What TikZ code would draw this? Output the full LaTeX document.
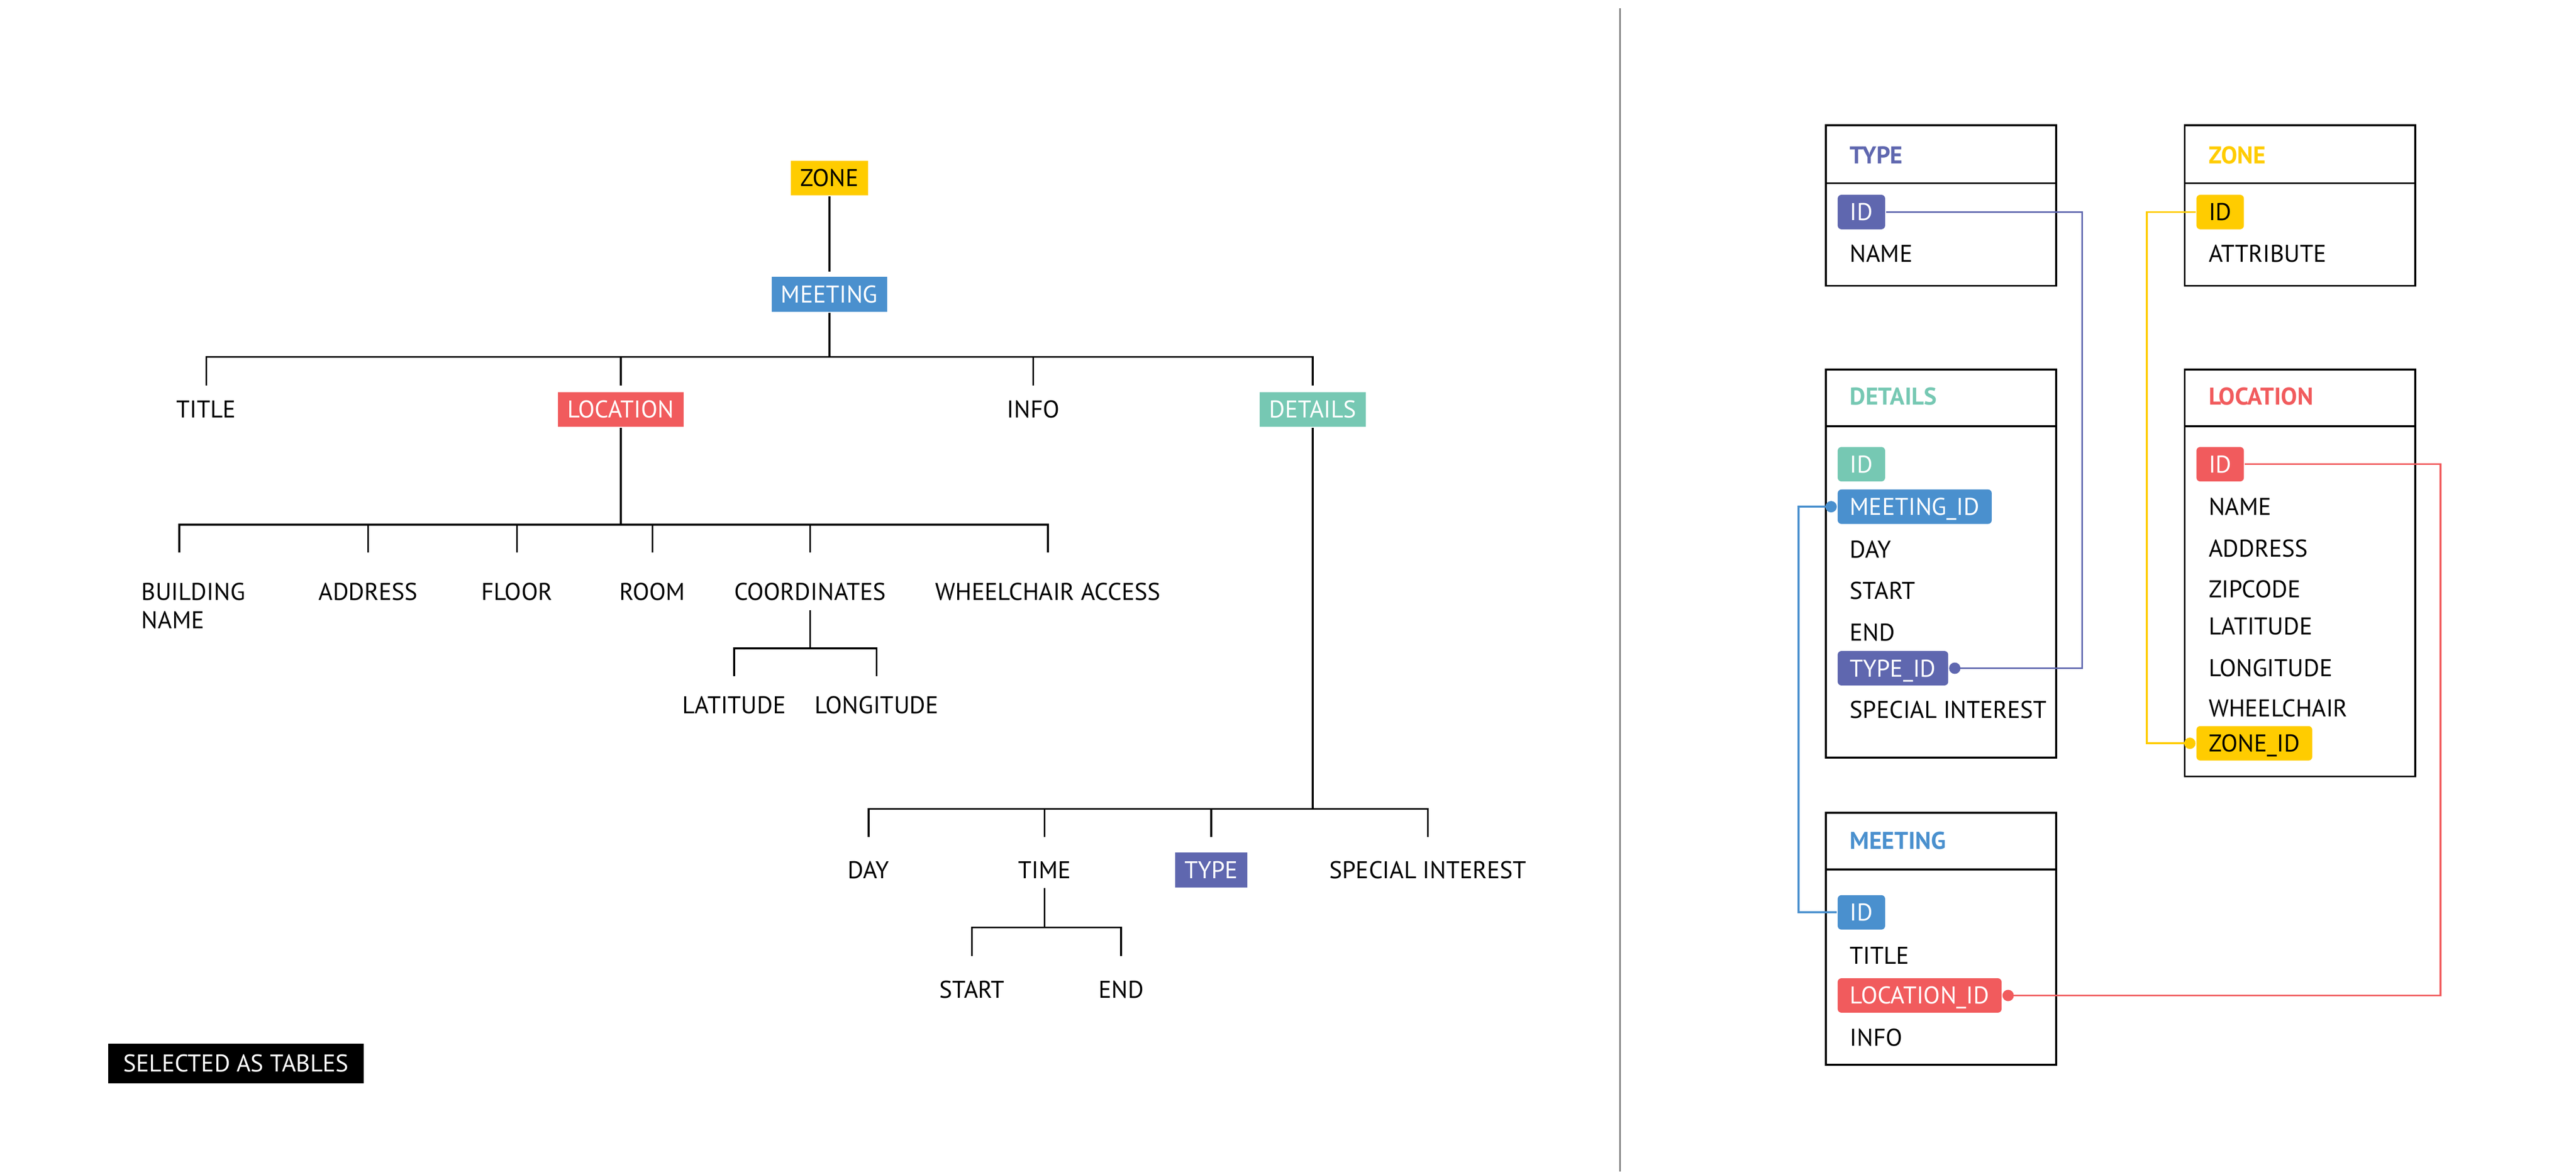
\documentclass[tikz,border=0pt]{standalone}
\usepackage{fontspec}
\setmainfont{PT Sans}
\usetikzlibrary{arrows.meta}
\definecolor{zoneY}{HTML}{FFCC00}
\definecolor{meetB}{HTML}{4A90CE}
\definecolor{locR}{HTML}{F15B5D}
\definecolor{detG}{HTML}{76C8B3}
\definecolor{typeP}{HTML}{5F67AF}
\tikzset{
  lbl/.style={font=\fontsize{14.6}{17}\selectfont, text height=0.36cm, text depth=0pt,
    minimum height=0.74cm, inner ysep=0pt, inner xsep=0.2cm},
  tag/.style={lbl, fill=#1, text=white},
  comb/.style 2 args={edge from parent path={(\tikzparentnode.south) -- ++(0,-#1)
    -| ([yshift=#2]\tikzchildnode.north)}},
  tbl/.style={draw, line width=1.2pt, minimum width=4.88cm, anchor=north west, inner sep=0pt},
  fld/.style={lbl, anchor=west, inner xsep=0.26cm},
  ttl/.style={fld, text=#1, font=\fontsize{14.6}{17}\selectfont\bfseries},
  pill/.style={fld, fill=#1, text=white, rounded corners=0.08cm, minimum height=0.73cm},
  link/.style={draw=#1, line width=1.1pt, -{Circle[length=0.24cm]}},
}
\begin{document}
\begin{tikzpicture}[line width=1.1pt,
    sibling distance=0cm,
    every child node/.style={lbl},
    level 1/.style={level distance=2.46cm, comb={1cm}{0.09cm}},
    level 2/.style={level distance=2.44cm, comb={0.94cm}{0.12cm}},
    level 3/.style={level distance=3.86cm, comb={2.05cm}{0.44cm}},
    level 4/.style={level distance=2.40cm, comb={0.81cm}{0.22cm}},
  ]
\useasboundingbox (0,0) rectangle (54.57,-24.81);

% tree
\node[tag=zoneY, text=black] (zone) at (17.57,-3.77) {ZONE}
child {node[tag=meetB] (meeting) {MEETING}
child [xshift=-13.20cm] {node (title) {TITLE}}
child [xshift=-4.42cm] {node[tag=locR] (location) {LOCATION}
  child [xshift=-9.35cm] {node[text width=1.6cm, align=left] (bldg) {BUILDING\\NAME}}
  child [xshift=-5.35cm] {node (address) {ADDRESS}}
  child [xshift=-2.20cm] {node (floor) {FLOOR}}
  child [xshift=0.67cm] {node (room) {ROOM}}
  child [xshift=4.01cm] {node (coords) {COORDINATES}
    child [xshift=-1.61cm] {node (lat) {LATITUDE}}
    child [xshift=1.41cm] {node (lon) {LONGITUDE}}
  }
  child [xshift=9.05cm] {node (wheel) {WHEELCHAIR ACCESS}}
}
child [xshift=4.32cm] {node (info) {INFO}}
child [xshift=10.24cm,
    level 3/.style={level distance=9.75cm, comb={8.07cm}{0.31cm}},
    level 4/.style={level distance=2.53cm, comb={0.83cm}{0.32cm}}]
  {node[tag=detG] (details) {DETAILS}
  child [xshift=-9.41cm] {node (day) {DAY}}
  child [xshift=-5.68cm] {node (time) {TIME}
    child [xshift=-1.54cm] {node (start) {START}}
    child [xshift=1.62cm] {node (end) {END}}
  }
  child [xshift=-2.15cm] {node[tag=typeP] (type) {TYPE}}
  child [xshift=2.44cm] {node (special) {SPECIAL INTEREST}}
}
}
;

\node[tag=black, minimum height=0.85cm, inner xsep=0.32cm] (note) at (5.00,-22.52) {SELECTED AS TABLES};

\draw[color=gray, line width=0.7pt] (34.32,-0.17) -- (34.32,-24.81);

% tables
\node[tbl, minimum height=3.40cm] (typeT) at (38.66,-2.63) {};
\draw[line width=1.2pt] ([yshift=-1.25cm]typeT.north west) -- ([yshift=-1.25cm]typeT.north east);
\node[ttl=typeP] (typeTtl) at (38.91,-3.28) {TYPE};
\node[pill=typeP] (typeId) at (38.91,-4.49) {ID};
\node[fld] (typeName) at (38.91,-5.37) {NAME};

\node[tbl, minimum height=3.40cm] (zoneT) at (46.26,-2.63) {};
\draw[line width=1.2pt] ([yshift=-1.25cm]zoneT.north west) -- ([yshift=-1.25cm]zoneT.north east);
\node[ttl=zoneY] (zoneTtl) at (46.51,-3.28) {ZONE};
\node[pill=zoneY, text=black] (zoneId) at (46.51,-4.49) {ID};
\node[fld] (zoneAttr) at (46.51,-5.37) {ATTRIBUTE};

\node[tbl, minimum height=8.22cm] (detT) at (38.66,-7.80) {};
\draw[line width=1.2pt] ([yshift=-1.23cm]detT.north west) -- ([yshift=-1.23cm]detT.north east);
\node[ttl=detG] (detTtl) at (38.91,-8.39) {DETAILS};
\node[pill=detG] (dtId) at (38.91,-9.83) {ID};
\node[pill=meetB] (dtMeetId) at (38.91,-10.73) {MEETING\_ID};
\node[fld] (dtDay) at (38.91,-11.63) {DAY};
\node[fld] (dtStart) at (38.91,-12.51) {START};
\node[fld] (dtEnd) at (38.91,-13.39) {END};
\node[pill=typeP] (dtTypeId) at (38.91,-14.15) {TYPE\_ID};
\node[fld] (dtSpecial) at (38.91,-15.03) {SPECIAL INTEREST};

\node[tbl, minimum height=8.62cm] (locT) at (46.26,-7.80) {};
\draw[line width=1.2pt] ([yshift=-1.23cm]locT.north west) -- ([yshift=-1.23cm]locT.north east);
\node[ttl=locR] (locTtl) at (46.51,-8.39) {LOCATION};
\node[pill=locR] (locId) at (46.51,-9.83) {ID};
\node[fld] (locName) at (46.51,-10.73) {NAME};
\node[fld] (locAddress) at (46.51,-11.61) {ADDRESS};
\node[fld] (locZip) at (46.51,-12.47) {ZIPCODE};
\node[fld] (locLat) at (46.51,-13.26) {LATITUDE};
\node[fld] (locLon) at (46.51,-14.14) {LONGITUDE};
\node[fld] (locWheel) at (46.51,-15.00) {WHEELCHAIR};
\node[pill=zoneY, text=black] (locZoneId) at (46.51,-15.74) {ZONE\_ID};

\node[tbl, minimum height=5.34cm] (meetT) at (38.66,-17.19) {};
\draw[line width=1.2pt] ([yshift=-1.22cm]meetT.north west) -- ([yshift=-1.22cm]meetT.north east);
\node[ttl=meetB] (meetTtl) at (38.91,-17.80) {MEETING};
\node[pill=meetB] (meetId) at (38.91,-19.32) {ID};
\node[fld] (mtTitle) at (38.91,-20.23) {TITLE};
\node[pill=locR] (mtLocId) at (38.91,-21.08) {LOCATION\_ID};
\node[fld] (mtInfo) at (38.91,-21.97) {INFO};

% keys
\coordinate (typeBend) at (44.11,-9);
\coordinate (zoneBend) at (45.48,-9);
\coordinate (meetBend) at (38.10,-15);
\coordinate (locBend) at (51.70,-15);
\draw[link=typeP] (typeId.east) -| (typeBend) |- (dtTypeId.east);
\draw[link=zoneY] (zoneId.west) -| (zoneBend) |- (locZoneId.west);
\draw[link=meetB] (meetId.west) -| (meetBend) |- (dtMeetId.west);
\draw[link=locR] (locId.east) -| (locBend) |- (mtLocId.east);

\end{tikzpicture}
\end{document}
